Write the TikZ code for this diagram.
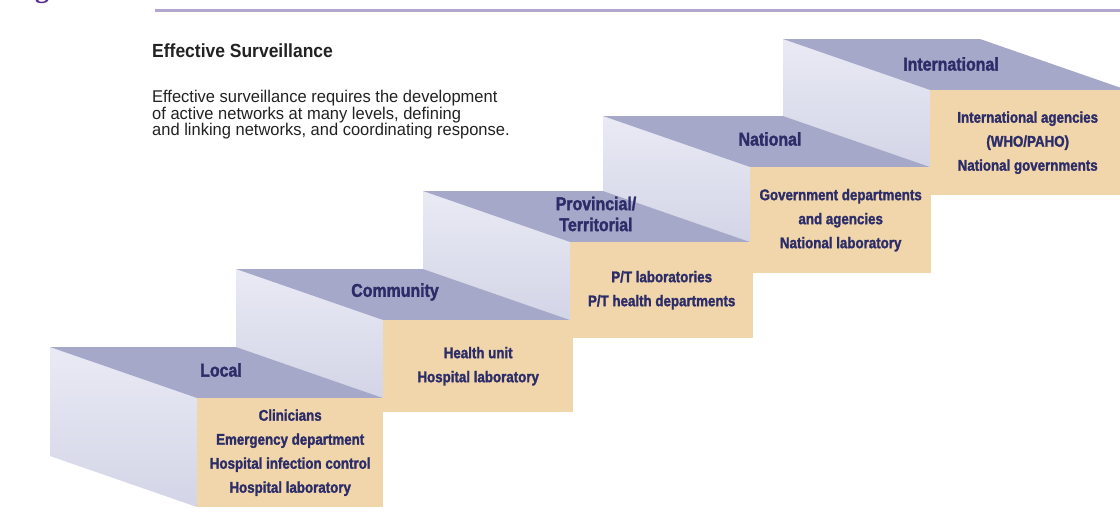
\documentclass[tikz,border=0pt]{standalone}
\usepackage{fontspec}
\setmainfont{Liberation Sans}
\newfontfamily\titlefont[FakeStretch=0.92]{Liberation Sans}
\newfontfamily\descfont[FakeStretch=0.97]{Liberation Sans}
\newfontfamily\stepfont[FakeStretch=0.86,FakeBold=1.6]{Liberation Sans}
\newfontfamily\figfont{Liberation Serif}
\definecolor{topc}{HTML}{A6A8C9}
\definecolor{leftlight}{HTML}{E9EAF4}
\definecolor{leftdark}{HTML}{D3D5E7}
\definecolor{tanc}{HTML}{F0D6AA}
\definecolor{navy}{HTML}{2C2C68}
\definecolor{rulec}{HTML}{B3A6CE}
\definecolor{figc}{HTML}{5B2C8B}
\definecolor{textc}{HTML}{222222}
\tikzset{
  topface/.style={fill=topc, draw=none},
  leftface/.style={top color=leftlight, bottom color=leftdark, draw=none},
  frontface/.style={fill=tanc, draw=none, inner sep=0pt, anchor=north west, align=center,
    text=navy, font=\stepfont\bfseries\fontsize{15.5}{24}\selectfont},
  steplabel/.style={text=navy, align=center, inner sep=0pt,
    font=\stepfont\bfseries\fontsize{18.5}{21}\selectfont},
}
\begin{document}
\begin{tikzpicture}[x=1pt,y=-1pt]
\useasboundingbox (0,0) rectangle (1120,512);
\fill[white] (0,0) rectangle (1120,512);
\clip (0,0) rectangle (1120,512);

% header
\node[anchor=base, text=figc, inner sep=0pt, font=\figfont\bfseries\fontsize{28}{30}\selectfont] (fig) at (42,-3) {g};
\coordinate (ruleA) at (155,10);
\coordinate (ruleB) at (1120,10);
\draw[rulec, line width=3pt] (ruleA) -- (ruleB);

\node[anchor=base west, inner sep=0pt, text=textc, font=\titlefont\bfseries\fontsize{19}{22}\selectfont] (title) at (152,57) {Effective Surveillance};
\node[anchor=north west, inner sep=0pt, align=left, text=textc, font=\descfont\fontsize{17}{16.5}\selectfont] (desc) at (152,90)
  {Effective surveillance requires the development\\of active networks at many levels, defining\\and linking networks, and coordinating response.};

% depth vector (147,51)
% ---------- International ----------
\path[leftface] (783,39) -- (930,90) -- (930,167) -- (783,116) -- cycle;
\path[topface] (783,39) -- (930,90) -- (1127,90) -- (980,39) -- cycle;
\node[frontface, minimum width=195pt, minimum height=105pt] (intl) at (930,90)
  {International agencies\\(WHO/PAHO)\\National governments};
\node[steplabel] (intlL) at (951,64) {International};

% ---------- National ----------
\path[leftface] (603,116) -- (750,167) -- (750,242) -- (603,191) -- cycle;
\path[topface] (603,116) -- (750,167) -- (930,167) -- (783,116) -- cycle;
\node[frontface, minimum width=181pt, minimum height=106pt] (natl) at (750,167)
  {Government departments\\and agencies\\National laboratory};
\node[steplabel] (natlL) at (770,139) {National};

% ---------- Provincial ----------
\path[leftface] (423,191) -- (570,242) -- (570,320) -- (423,269) -- cycle;
\path[topface] (423,191) -- (570,242) -- (750,242) -- (603,191) -- cycle;
\node[frontface, minimum width=183pt, minimum height=96pt] (prov) at (570,242)
  {P/T laboratories\\P/T health departments};
\node[steplabel] (provL) at (596,214) {Provincial/\\Territorial};

% ---------- Community ----------
\path[leftface] (236,269) -- (383,320) -- (383,398) -- (236,347) -- cycle;
\path[topface] (236,269) -- (383,320) -- (570,320) -- (423,269) -- cycle;
\node[frontface, minimum width=190pt, minimum height=92pt] (comm) at (383,320)
  {Health unit\\Hospital laboratory};
\node[steplabel] (commL) at (395,292) {Community};

% ---------- Local ----------
\path[leftface] (50,347) -- (197,398) -- (197,507) -- (50,456) -- cycle;
\path[topface] (50,347) -- (197,398) -- (383,398) -- (236,347) -- cycle;
\node[frontface, minimum width=186pt, minimum height=109pt] (local) at (197,398)
  {Clinicians\\Emergency department\\Hospital infection control\\Hospital laboratory};
\node[steplabel] (localL) at (221,370) {Local};
\end{tikzpicture}
\end{document}
